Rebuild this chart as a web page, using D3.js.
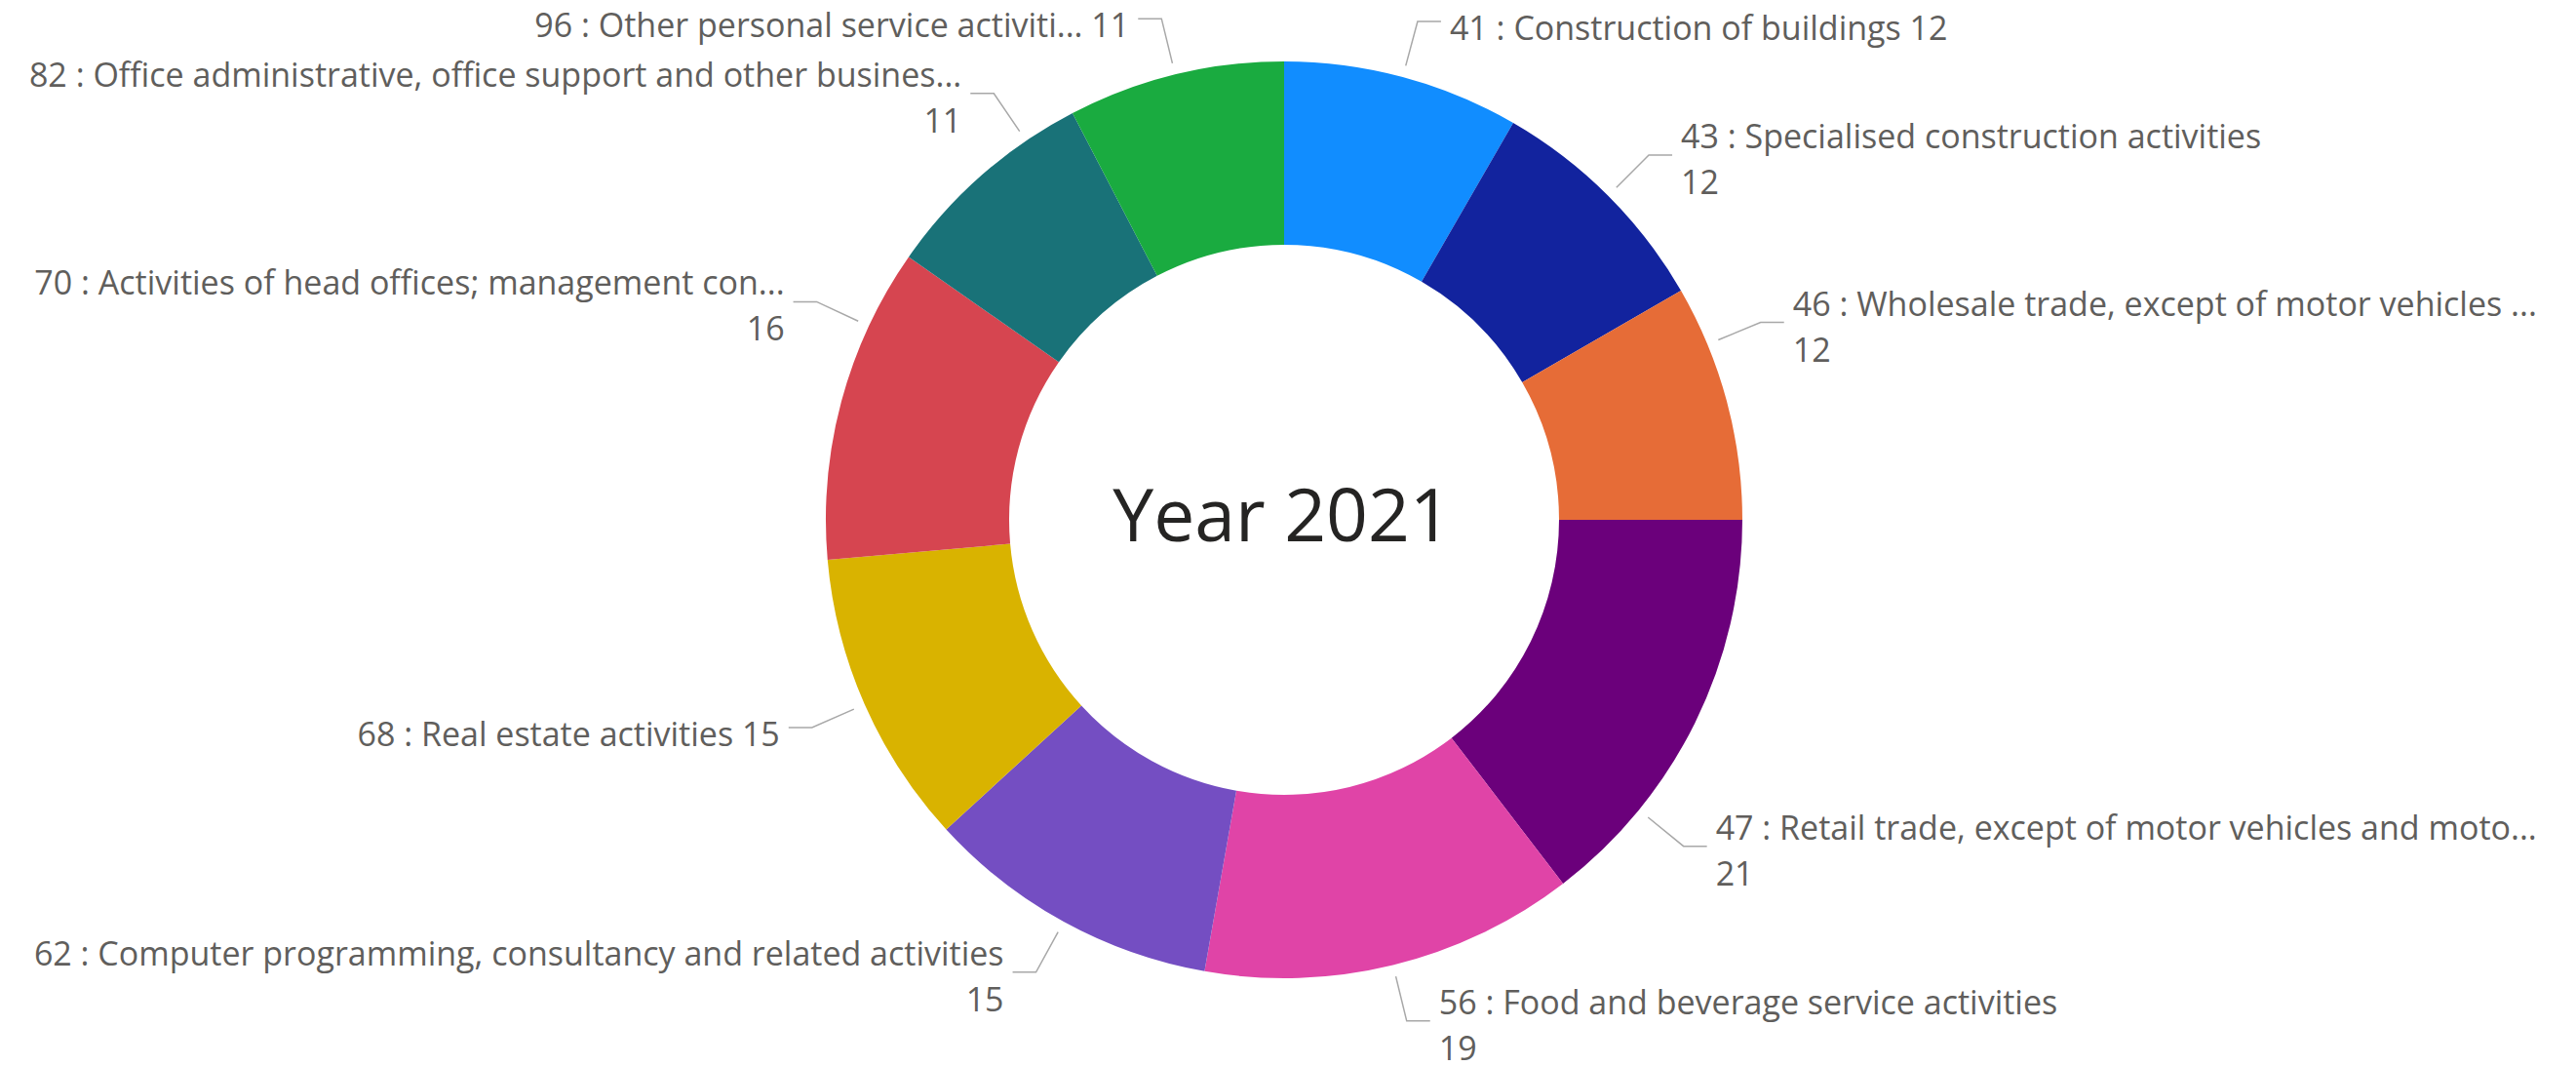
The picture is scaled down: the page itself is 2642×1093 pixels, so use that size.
<!DOCTYPE html>
<html>
<head>
<meta charset="utf-8">
<script src="https://cdn.jsdelivr.net/npm/d3@7"></script>
<style>
  html, body { margin: 0; padding: 0; background: #ffffff; }
  svg { display: block; }
</style>
</head>
<body>
<svg id="chart" width="2642" height="1093"></svg>
<script>
const categories = [
  "41 : Construction of buildings",
  "43 : Specialised construction activities",
  "46 : Wholesale trade, except of motor vehicles ...",
  "47 : Retail trade, except of motor vehicles and moto...",
  "56 : Food and beverage service activities",
  "62 : Computer programming, consultancy and related activities",
  "68 : Real estate activities",
  "70 : Activities of head offices; management con...",
  "82 : Office administrative, office support and other busines...",
  "96 : Other personal service activiti..."
];
const values = [12, 12, 12, 21, 19, 15, 15, 16, 11, 11];
const colors = ["#118DFF", "#12239E", "#E66C37", "#6B007B", "#E044A7",
                "#744EC2", "#D9B300", "#D64550", "#197278", "#1AAB40"];
// label layout hints (degrees the leader line is nudged from the slice middle; single-line labels)
const labelShift = [0, 0, -7.5, 13, 0, 0, 0, 10, 7, 0];
const singleLine = [true, false, false, false, false, false, true, false, false, true];
const centerTitle = "Year 2021";

const svg = d3.select("#chart");
const cx = 1317, cy = 533;
const innerR = 282, outerR = 470;

const data = categories.map((c, i) => ({ cat: c, value: values[i], color: colors[i], shift: labelShift[i], single: singleLine[i] }));

const pie = d3.pie().sort(null).value(d => d.value).startAngle(0).endAngle(2 * Math.PI);
const arc = d3.arc().innerRadius(innerR).outerRadius(outerR);
const arcs = pie(data);

const g = svg.append("g").attr("transform", `translate(${cx},${cy})`);

g.selectAll("path.slice")
  .data(arcs)
  .join("path")
  .attr("class", "slice")
  .attr("d", arc)
  .attr("fill", d => d.data.color);

// center title
g.append("text")
  .attr("x", -2)
  .attr("y", 22)
  .attr("text-anchor", "middle")
  .attr("font-family", "'Open Sans', 'Noto Sans', sans-serif")
  .attr("font-size", 75)
  .attr("fill", "#252423")
  .text(centerTitle);

// labels
const r1 = 482, r2 = 529, hLen = 24, gap = 9;
const fontFamily = "'Open Sans', 'Noto Sans', sans-serif";
const fontSize = 34;
const labelColor = "#605E5C";

const lab = g.append("g");
arcs.forEach(a => {
  const mid = (a.startAngle + a.endAngle) / 2 + a.data.shift * Math.PI / 180;
  const sx = Math.sin(mid), sy = -Math.cos(mid);
  const p1 = [r1 * sx, r1 * sy];
  const p2 = [r2 * sx, r2 * sy];
  const right = sx >= 0;
  const p3 = [p2[0] + (right ? hLen : -hLen), p2[1]];
  lab.append("polyline")
    .attr("points", [p1, p2, p3].map(p => p.join(",")).join(" "))
    .attr("fill", "none")
    .attr("stroke", "#A8A8A8")
    .attr("stroke-width", 1.5);
  const tx = p3[0] + (right ? gap : -gap);
  const anchor = right ? "start" : "end";
  if (a.data.single) {
    lab.append("text")
      .attr("x", tx).attr("y", p2[1] + 19)
      .attr("text-anchor", anchor)
      .attr("font-family", fontFamily).attr("font-size", fontSize)
      .attr("fill", labelColor)
      .text(a.data.cat + " " + a.data.value);
  } else {
    lab.append("text")
      .attr("x", tx).attr("y", p2[1] - 7)
      .attr("text-anchor", anchor)
      .attr("font-family", fontFamily).attr("font-size", fontSize)
      .attr("fill", labelColor)
      .text(a.data.cat);
    lab.append("text")
      .attr("x", tx).attr("y", p2[1] + 40)
      .attr("text-anchor", anchor)
      .attr("font-family", fontFamily).attr("font-size", fontSize)
      .attr("fill", labelColor)
      .text(a.data.value);
  }
});
</script>
</body>
</html>
